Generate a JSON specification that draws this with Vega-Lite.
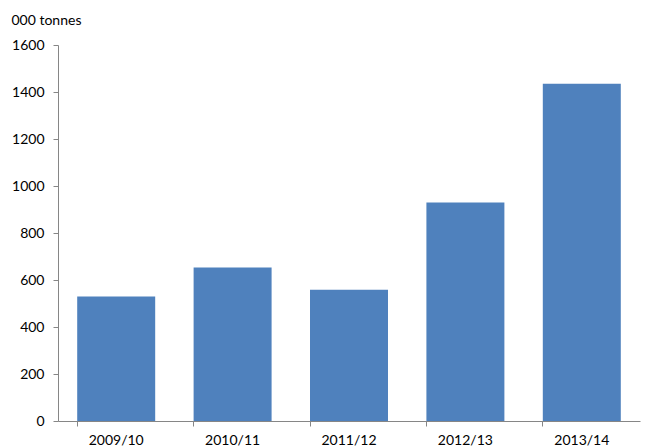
{
  "$schema": "https://vega.github.io/schema/vega-lite/v6.json",
  "autosize": "none",
  "padding": {"left": 58, "top": 45, "right": 6, "bottom": 26},
  "width": 582,
  "height": 376,
  "background": "white",
  "config": {"view": {"stroke": null}, "font": "Lato"},
  "data": {"values": [
    {"year": "2009/10", "value": 530},
    {"year": "2010/11", "value": 653},
    {"year": "2011/12", "value": 558},
    {"year": "2012/13", "value": 930},
    {"year": "2013/14", "value": 1435}
  ]},
  "mark": {"type": "bar", "color": "#4F81BD"},
  "encoding": {
    "x": {
      "field": "year", "type": "nominal", "sort": null,
      "scale": {"paddingInner": 0.33, "paddingOuter": 0.165},
      "axis": {"title": null, "labelAngle": 0, "labelFontSize": 14, "labelColor": "#000", "labelPadding": 7,
        "domainColor": "#868686", "tickColor": "#868686", "tickSize": 5, "bandPosition": 0}
    },
    "y": {
      "field": "value", "type": "quantitative",
      "scale": {"domain": [0, 1600], "nice": false},
      "axis": {"values": [0, 200, 400, 600, 800, 1000, 1200, 1400, 1600], "format": "d", "grid": false,
        "labelFontSize": 14, "labelColor": "#000", "labelPadding": 9,
        "domainColor": "#868686", "tickColor": "#868686", "tickSize": 5,
        "title": "000 tonnes", "titleAngle": 0, "titleFontWeight": "normal", "titleFontSize": 14,
        "titleColor": "#000", "titleAlign": "left", "titleBaseline": "middle", "titleX": -47, "titleY": -25}
    }
  }
}
